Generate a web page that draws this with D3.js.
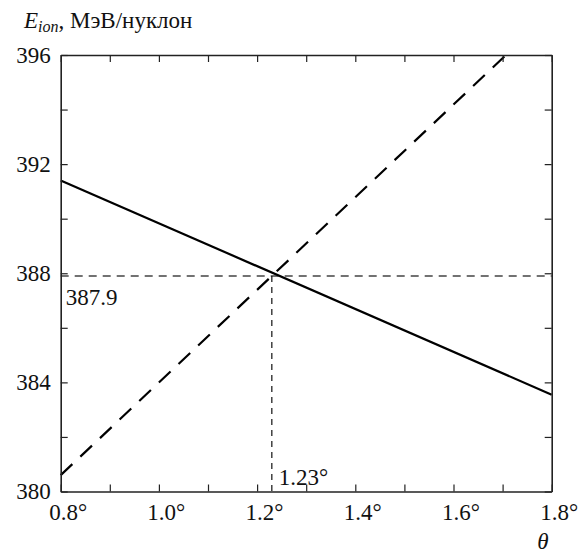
<!DOCTYPE html>
<html>
<head>
<meta charset="utf-8">
<script src="https://cdn.jsdelivr.net/npm/d3@7"></script>
<style>
  body { margin: 0; background: #fff; }
  svg text { font-family: "Liberation Serif", "Times New Roman", Times, serif; fill: #111; }
</style>
</head>
<body>
<svg id="chart" width="581" height="557"></svg>
<script>
// values
const thetaDomain = [0.8, 1.8];
const energyDomain = [380, 396];
const xTicks = [0.8, 0.9, 1.0, 1.1, 1.2, 1.3, 1.4, 1.5, 1.6, 1.7, 1.8];
const yTicks = [380, 382, 384, 386, 388, 390, 392, 394, 396];

const solidTheta = [0.8, 1.8];
const solidE = [391.4, 383.55];
const dashedTheta = [0.8, 1.707];
const dashedE = [380.6, 396];

const crossTheta = 1.23;
const crossE = 387.9;

const serif = '"Liberation Serif", "Times New Roman", Times, serif';

const svg = d3.select("#chart");
const margin = {left: 60.7, right: 29.3, top: 55, bottom: 65.5};
const width = 581 - margin.left - margin.right;
const height = 557 - margin.top - margin.bottom;

const g = svg.append("g").attr("transform", `translate(${margin.left},${margin.top})`);

const x = d3.scaleLinear().domain(thetaDomain).range([0, width]);
const y = d3.scaleLinear().domain(energyDomain).range([height, 0]);

const fmtX = (d, i) => (i % 2 ? "" : d.toFixed(1) + "\u00B0");
const fmtY = (d, i) => (i % 2 ? "" : d);

// reference lines
g.append("line")
    .attr("x1", 0).attr("x2", width)
    .attr("y1", y(crossE)).attr("y2", y(crossE))
    .attr("stroke", "#444").attr("stroke-width", 1.3)
    .attr("stroke-dasharray", "8,6");

g.append("line")
    .attr("x1", x(crossTheta)).attr("x2", x(crossTheta))
    .attr("y1", y(crossE)).attr("y2", height)
    .attr("stroke", "#111").attr("stroke-width", 1.2)
    .attr("stroke-dasharray", "6,5");

const line = d3.line().x(d => x(d[0])).y(d => y(d[1]));

g.append("path")
    .datum(solidTheta.map((t, i) => [t, solidE[i]]))
    .attr("d", line)
    .attr("fill", "none").attr("stroke", "#000").attr("stroke-width", 2.2);

g.append("path")
    .datum(dashedTheta.map((t, i) => [t, dashedE[i]]))
    .attr("d", line)
    .attr("fill", "none").attr("stroke", "#000").attr("stroke-width", 2.2)
    .attr("stroke-dasharray", "16,11");

// axes, ticks pointing inward
const bottom = g.append("g").attr("transform", `translate(0,${height})`)
    .call(d3.axisBottom(x).tickValues(xTicks).tickFormat(fmtX)
        .tickSizeInner(-7).tickSizeOuter(0).tickPadding(12));
g.append("g")
    .call(d3.axisTop(x).tickValues(xTicks).tickFormat("")
        .tickSizeInner(-7).tickSizeOuter(0));
g.append("g")
    .call(d3.axisLeft(y).tickValues(yTicks).tickFormat(fmtY)
        .tickSizeInner(-7).tickSizeOuter(0).tickPadding(10));
g.append("g").attr("transform", `translate(${width},0)`)
    .call(d3.axisRight(y).tickValues(yTicks).tickFormat("")
        .tickSizeInner(-7).tickSizeOuter(0));

g.selectAll("g").attr("font-family", serif);
g.selectAll(".domain").attr("stroke", "#222").attr("stroke-width", 1.6);
g.selectAll(".tick line").attr("stroke", "#222").attr("stroke-width", 1.2);
g.selectAll(".tick text")
    .style("font-family", serif)
    .attr("font-size", 23).attr("fill", "#111");
bottom.selectAll(".tick text").attr("dx", "0.3em");

// annotations
g.append("text")
    .attr("x", 5).attr("y", y(crossE) + 29)
    .attr("font-size", 23)
    .text(crossE.toFixed(1));

g.append("text")
    .attr("x", x(crossTheta) + 7).attr("y", height - 7)
    .attr("font-size", 23)
    .text(crossTheta.toFixed(2) + "\u00B0");

// axis titles
const title = svg.append("text")
    .attr("x", 24).attr("y", 28)
    .attr("font-size", 23);
title.append("tspan").attr("font-style", "italic").text("E");
title.append("tspan").attr("font-style", "italic").attr("font-size", 16)
    .attr("dy", 4).text("ion");
title.append("tspan").attr("dy", -4).text(", МэВ/нуклон");

svg.append("text")
    .attr("x", 543).attr("y", 549)
    .attr("text-anchor", "middle")
    .attr("font-size", 23).attr("font-style", "italic")
    .text("θ");
</script>
</body>
</html>
